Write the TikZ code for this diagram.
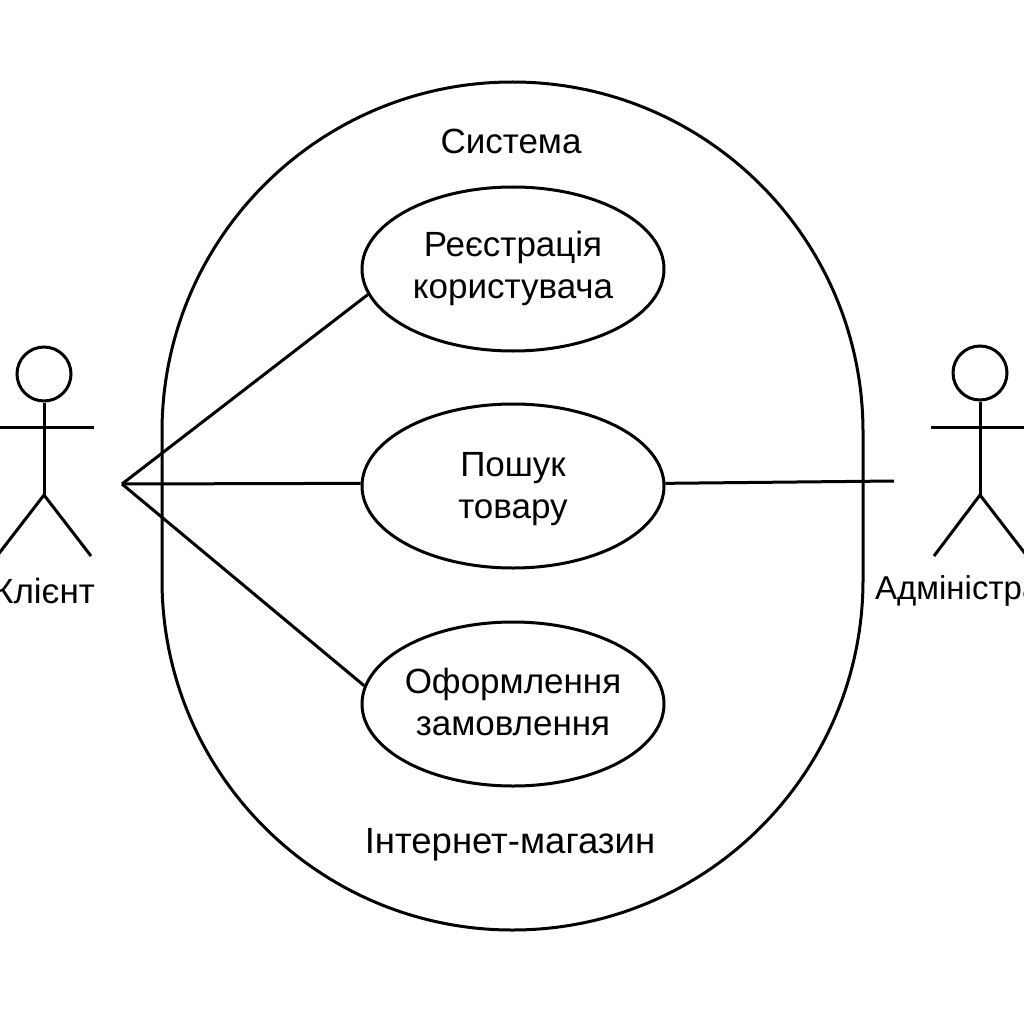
\documentclass[tikz,border=0pt]{standalone}
\usepackage{fontspec}
\setmainfont{Liberation Sans}
\usetikzlibrary{shapes.geometric}
\tikzset{
  ln/.style={draw=black,line width=3pt},
  usecase/.style={ellipse,ln,minimum width=302pt,minimum height=164pt,inner sep=0pt},
  uctext/.style={inner sep=0pt,align=center,font=\fontsize{35}{42}\selectfont,text=black},
  lbl/.style={inner sep=0pt,font=\fontsize{35}{42}\selectfont,text=black},
  head/.style={circle,ln,minimum size=54pt,inner sep=0pt}
}
\begin{document}
\begin{tikzpicture}[x=1pt,y=-1pt]
\useasboundingbox (0,0) rectangle (1024,1024);
\clip (0,0) rectangle (1024,1024);
\fill[white] (0,0) rectangle (1024,1024);
% system boundary
\draw[ln] (162,432) arc[start angle=180,end angle=0,x radius=350.5pt,y radius=350pt]
  -- (863,580) arc[start angle=0,end angle=-180,x radius=350.5pt,y radius=350pt] -- cycle;
\node[lbl] (title) at (511,141) {Система};
\node[lbl,font=\fontsize{36.5}{42}\selectfont] (shop) at (510,845) {Інтернет-магазин};
% use cases
\node[usecase,label={[uctext,yshift=1pt]center:Реєстрація\\користувача}] (uc1) at (513,269) {};
\node[usecase,label={[uctext,yshift=-3.5pt]center:Пошук\\товару}] (uc2) at (513,486) {};
\node[usecase,label={[uctext,yshift=2pt]center:Оформлення\\замовлення}] (uc3) at (513,704) {};
% client
\node[head] (h1) at (44,374) {};
\coordinate (b1) at (44,495);
\coordinate (c1) at (122,484);
\draw[ln] (h1.south) -- (b1);
\draw[ln] (-6,427) -- (94,427);
\draw[ln] (-3,556) -- (b1) -- (91,556);
\node[lbl] (client) at (44,591) {Клієнт};
% admin
\node[head] (h2) at (980,373) {};
\coordinate (b2) at (980,495);
\coordinate (c2) at (894,481);
\draw[ln] (h2.south) -- (b2);
\draw[ln] (931,427) -- (1030,427);
\draw[ln] (934,556) -- (b2) -- (1027,556);
\node[lbl,anchor=west,font=\fontsize{33}{42}\selectfont] (admin) at (875,591) {Адміністратор};
% connectors
\draw[ln] (c1) -- (uc1.190);
\draw[ln] (c1) -- (uc2.179);
\draw[ln] (c1) -- (uc3.173);
\draw[ln] (uc2.1.5) -- (c2);
\end{tikzpicture}
\end{document}
